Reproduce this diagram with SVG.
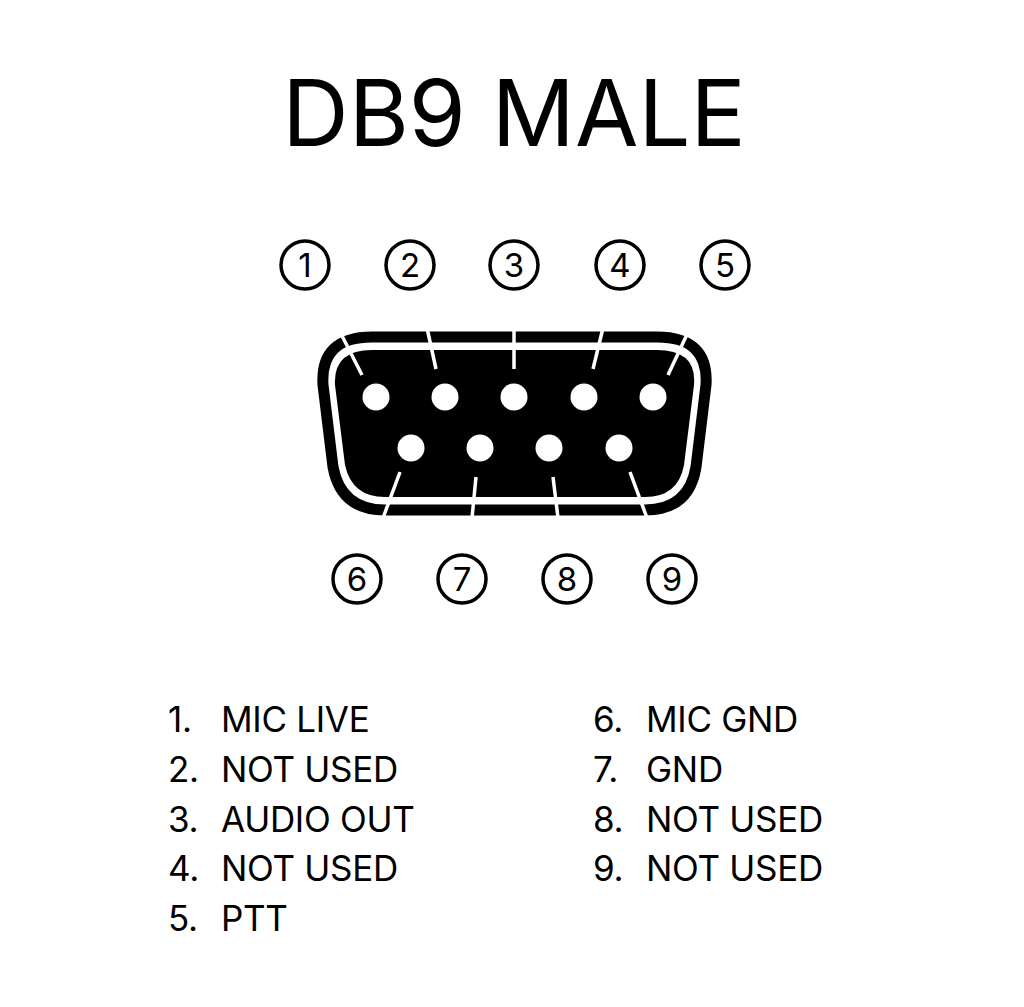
<svg xmlns="http://www.w3.org/2000/svg" width="1024" height="1007" viewBox="0 0 1024 1007">
<style>
.t{font-family:Inter,"Liberation Sans",sans-serif;fill:#000}
.c{fill:#fff;stroke:#000;stroke-width:3.5}
.n{font-family:Inter,"Liberation Sans",sans-serif;font-size:33px;text-anchor:middle;fill:#000}
.tick{stroke:#fff;stroke-width:3.5}
.pin{fill:#fff}
.l{font-family:Inter,"Liberation Sans",sans-serif;font-size:35px;letter-spacing:-0.3px;fill:#000}
</style>
<rect width="1024" height="1007" fill="#fff"/>
<text class="t" x="514" y="146" font-size="92" text-anchor="middle">DB9 MALE</text>
<g id="connector">
<path d="M 372 337 H 657 Q 709 337 706 385 L 696 467 Q 689 510 645 510 H 385 Q 341 510 333 467 L 323 385 Q 320 337 372 337 Z" fill="none" stroke="#000" stroke-width="11"/>
<path d="M 372 350 H 657 Q 697 350 694 385 L 684 465 Q 678 497 645 497 H 385 Q 352 497 345 465 L 335 385 Q 333 350 372 350 Z" fill="#000"/>
</g>
<g id="connectors">
<line class="tick" x1="362" y1="375" x2="338" y2="328"/>
<line class="tick" x1="436" y1="369" x2="427" y2="328"/>
<line class="tick" x1="514" y1="369" x2="514" y2="328"/>
<line class="tick" x1="593" y1="369" x2="603" y2="328"/>
<line class="tick" x1="668" y1="375" x2="690" y2="328"/>
<line class="tick" x1="400" y1="472" x2="383" y2="518"/>
<line class="tick" x1="476" y1="477" x2="472" y2="518"/>
<line class="tick" x1="553" y1="477" x2="558" y2="518"/>
<line class="tick" x1="630" y1="472" x2="647" y2="518"/>
</g>
<g id="pins">
<circle class="pin" cx="376" cy="397" r="13.5"/><circle class="pin" cx="445" cy="397" r="13.5"/><circle class="pin" cx="514" cy="397" r="13.5"/><circle class="pin" cx="584" cy="397" r="13.5"/><circle class="pin" cx="653" cy="397" r="13.5"/>
<circle class="pin" cx="411" cy="448" r="13.5"/><circle class="pin" cx="480" cy="448" r="13.5"/><circle class="pin" cx="549" cy="448" r="13.5"/><circle class="pin" cx="619" cy="448" r="13.5"/>
</g>
<g id="n1"><circle class="c" cx="305" cy="265" r="24"/><text class="n" x="305" y="277">1</text></g>
<g id="n2"><circle class="c" cx="410" cy="265" r="24"/><text class="n" x="410" y="277">2</text></g>
<g id="n3"><circle class="c" cx="514" cy="265" r="24"/><text class="n" x="514" y="277">3</text></g>
<g id="n4"><circle class="c" cx="620" cy="265" r="24"/><text class="n" x="620" y="277">4</text></g>
<g id="n5"><circle class="c" cx="725" cy="265" r="24"/><text class="n" x="725" y="277">5</text></g>
<g id="n6"><circle class="c" cx="357" cy="579" r="24"/><text class="n" x="357" y="591">6</text></g>
<g id="n7"><circle class="c" cx="462" cy="579" r="24"/><text class="n" x="462" y="591">7</text></g>
<g id="n8"><circle class="c" cx="567" cy="579" r="24"/><text class="n" x="567" y="591">8</text></g>
<g id="n9"><circle class="c" cx="672" cy="579" r="24"/><text class="n" x="672" y="591">9</text></g>
<g id="legend">
<text class="l" x="168" y="732">1.</text><text class="l" x="221" y="732">MIC LIVE</text>
<text class="l" x="168" y="782">2.</text><text class="l" x="221" y="782">NOT USED</text>
<text class="l" x="168" y="832">3.</text><text class="l" x="221" y="832">AUDIO OUT</text>
<text class="l" x="168" y="881">4.</text><text class="l" x="221" y="881">NOT USED</text>
<text class="l" x="168" y="931">5.</text><text class="l" x="221" y="931">PTT</text>
<text class="l" x="593" y="732">6.</text><text class="l" x="646" y="732">MIC GND</text>
<text class="l" x="593" y="782">7.</text><text class="l" x="646" y="782">GND</text>
<text class="l" x="593" y="832">8.</text><text class="l" x="646" y="832">NOT USED</text>
<text class="l" x="593" y="881">9.</text><text class="l" x="646" y="881">NOT USED</text>
</g>
</svg>
